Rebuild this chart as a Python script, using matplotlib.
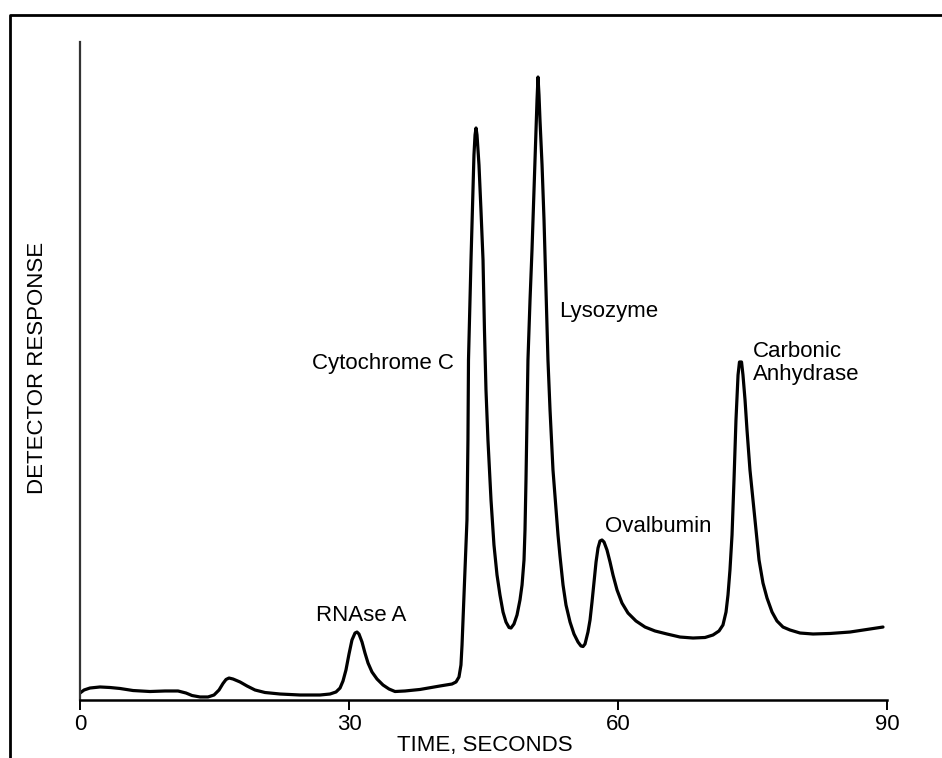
import matplotlib
matplotlib.use("Agg")
import matplotlib.pyplot as plt
from matplotlib.lines import Line2D

plt.rcParams['font.family'] = ['Liberation Sans', 'DejaVu Sans']

# chromatogram trace: time in seconds, detector response in arbitrary units
time_s = [0.00, 0.45, 1.11, 2.23, 3.34, 4.46, 5.91, 7.80, 9.48, 10.93,
          11.82, 12.49, 13.38, 14.27, 14.94, 15.50, 15.94, 16.28, 16.61, 17.06,
          17.84, 18.62, 19.51, 20.62, 22.30, 24.53, 26.76, 27.87, 28.54, 28.99,
          29.32, 29.65, 29.99, 30.32, 30.66, 30.88, 31.10, 31.44, 31.77, 32.11,
          32.55, 33.11, 33.78, 34.45, 35.12, 36.23, 37.90, 40.13, 41.47, 41.92,
          42.25, 42.47, 42.59, 42.70, 42.92, 43.14, 43.25, 43.31, 43.48, 43.59,
          43.81, 43.92, 44.04, 44.15, 44.26, 44.37, 44.48, 44.70, 44.93, 45.09,
          45.26, 45.48, 45.82, 46.15, 46.49, 46.82, 47.16, 47.49, 47.83, 48.05,
          48.38, 48.72, 49.05, 49.28, 49.50, 49.61, 49.72, 49.83, 49.94, 50.17,
          50.39, 50.61, 50.84, 50.95, 51.06, 51.17, 51.28, 51.51, 51.73, 51.95,
          52.17, 52.40, 52.73, 53.07, 53.29, 53.51, 53.85, 54.18, 54.63, 55.07,
          55.52, 55.85, 56.08, 56.30, 56.63, 56.86, 57.08, 57.30, 57.53, 57.75,
          57.97, 58.19, 58.42, 58.75, 59.09, 59.42, 59.87, 60.42, 61.09, 61.98,
          62.99, 64.10, 65.44, 66.89, 68.34, 69.68, 70.57, 71.24, 71.68, 72.02,
          72.24, 72.46, 72.69, 72.91, 73.13, 73.36, 73.52, 73.75, 73.91, 74.14,
          74.36, 74.69, 75.03, 75.36, 75.70, 76.14, 76.59, 77.15, 77.70, 78.37,
          79.15, 80.27, 81.72, 83.61, 85.84, 88.07, 89.52]
response = [1.06, 1.52, 1.82, 1.98, 1.90, 1.75, 1.44, 1.29, 1.37, 1.37,
            1.06, 0.68, 0.46, 0.46, 0.76, 1.52, 2.51, 3.12, 3.34, 3.19,
            2.74, 2.13, 1.52, 1.14, 0.91, 0.76, 0.76, 0.91, 1.22, 1.82,
            2.89, 4.56, 6.99, 9.12, 10.18, 10.33, 10.03, 8.81, 7.14, 5.62,
            4.26, 3.19, 2.28, 1.67, 1.29, 1.37, 1.60, 2.13, 2.43, 2.74,
            3.50, 5.32, 8.36, 12.16, 19.76, 27.36, 39.51, 51.67, 60.79, 66.87,
            77.51, 82.83, 85.87, 86.93, 85.87, 83.59, 81.31, 74.47, 66.87, 56.23,
            47.11, 39.51, 30.40, 23.56, 19.00, 15.96, 13.37, 11.85, 11.02, 10.94,
            11.55, 12.92, 15.20, 17.48, 21.28, 25.84, 33.43, 42.55, 51.67, 60.79,
            68.39, 77.51, 86.63, 91.19, 94.68, 91.95, 88.15, 81.31, 72.95, 62.31,
            51.67, 44.07, 34.95, 28.88, 25.08, 21.88, 17.48, 14.44, 11.85, 10.03,
            8.81, 8.21, 8.13, 8.51, 10.33, 12.16, 14.89, 17.93, 20.97, 23.10,
            24.16, 24.32, 24.01, 22.80, 20.97, 19.00, 16.72, 14.74, 13.22, 12.01,
            11.09, 10.49, 10.03, 9.57, 9.42, 9.50, 9.88, 10.49, 11.40, 13.37,
            15.96, 19.76, 25.08, 33.43, 42.55, 49.39, 51.37, 51.37, 49.39, 45.59,
            41.03, 34.95, 30.40, 25.84, 21.28, 17.78, 15.50, 13.37, 12.01, 11.09,
            10.64, 10.18, 10.03, 10.11, 10.33, 10.79, 11.09]

x_ticks = [0, 30, 60, 90]

peak_names = ["RNAse A", "Cytochrome C", "Lysozyme", "Ovalbumin", "Carbonic\nAnhydrase"]
label_t = [31.3, 33.8, 58.9, 64.5, 75.0]
label_r = [12.8, 51.2, 59.1, 26.4, 51.2]
label_ha = ['center', 'center', 'center', 'center', 'left']

W, H = 942, 758
fig = plt.figure(figsize=(W / 100, H / 100), dpi=100)
fig.patch.set_facecolor('white')

# outer frame (only left and top edges fall inside the figure)
fx = 10 / W
fy = 1 - 15 / H
fig.add_artist(Line2D([fx, fx, 1.01], [-0.01, fy, fy], transform=fig.transFigure,
                      color='black', lw=2.0))

ax = fig.add_axes([80 / W, (H - 700) / H, 807.3 / W, 658 / H])
ax.plot(time_s, response, color='black', lw=2.3,
        solid_joinstyle='round', solid_capstyle='round')

ax.set_xlim(0, 90)
ax.set_ylim(0, 100)
ax.set_xticks(x_ticks)
ax.set_xticklabels([str(v) for v in x_ticks], fontsize=16)
ax.set_yticks([])
ax.tick_params(axis='x', direction='out', length=7, width=1.4, pad=3, colors='black')
for side in ['top', 'right']:
    ax.spines[side].set_visible(False)
ax.spines['bottom'].set_linewidth(1.8)
ax.spines['left'].set_linewidth(1.6)
ax.spines['left'].set_color('#333333')
ax.patch.set_alpha(0)

for name, t, r, ha in zip(peak_names, label_t, label_r, label_ha):
    ax.text(t, r, name, ha=ha, va='center', fontsize=16, linespacing=1.15)

fig.text(485 / W, (H - 745) / H, "TIME, SECONDS", ha='center', va='center', fontsize=16)
fig.text(38 / W, (H - 368) / H, "DETECTOR RESPONSE", ha='center', va='center',
         rotation=90, fontsize=16)

fig.savefig("out.png", dpi=100)
